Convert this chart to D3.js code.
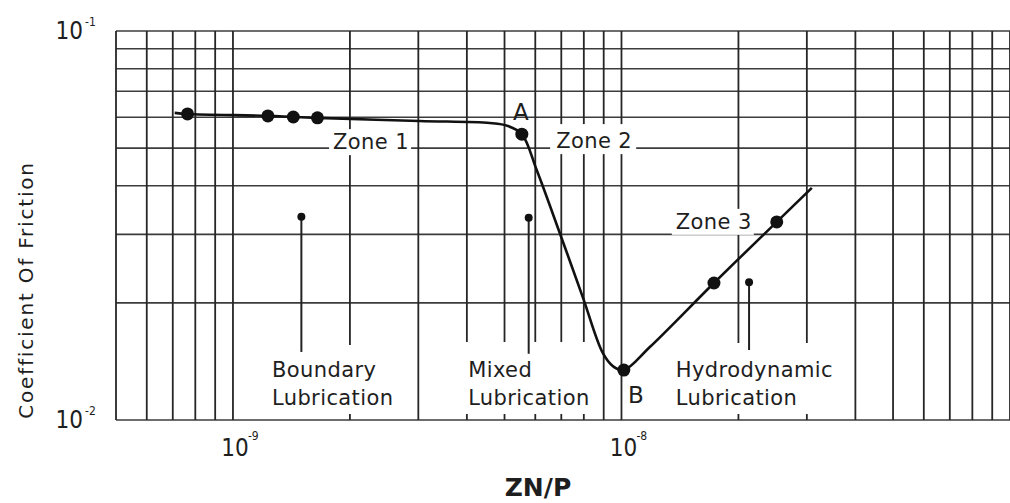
<!DOCTYPE html>
<html>
<head>
<meta charset="utf-8">
<script src="https://cdn.jsdelivr.net/npm/d3@7/dist/d3.min.js"></script>
<style>
  html, body { margin: 0; padding: 0; background: #fff; }
  svg { display: block; }
  text { font-family: "DejaVu Sans", sans-serif; fill: #1e1e1e; }
</style>
</head>
<body>
<svg id="chart" width="1010" height="503"></svg>
<script>
// ---- data ----
const xDomain = [5e-10, 1e-7];
const yDomain = [0.01, 0.1];
const xGridValues = [5e-10,6e-10,7e-10,8e-10,9e-10,
  1e-9,2e-9,3e-9,4e-9,5e-9,6e-9,7e-9,8e-9,9e-9,
  1e-8,2e-8,3e-8,4e-8,5e-8,6e-8,7e-8,8e-8,9e-8,1e-7];
const yGridValues = [0.01,0.02,0.03,0.04,0.05,0.06,0.07,0.08,0.09,0.1];
const xTickValues = [1e-9, 1e-8];
const xTickExponents = ["-9", "-8"];
const yTickValues = [0.1, 0.01];
const yTickExponents = ["-1", "-2"];

// Stribeck curve (ZN/P, coefficient of friction)
const curveX = [7.08e-10, 7.64e-10, 1.23e-9, 1.43e-9, 1.65e-9, 3.02e-9, 4.58e-9, 5.1e-9, 5.54e-9,
  6.05e-9, 6.94e-9, 7.95e-9, 8.95e-9, 9.5e-9, 1.014e-8, 1.183e-8, 1.73e-8, 2.51e-8, 3.09e-8];
const curveY = [0.0616, 0.0612, 0.0605, 0.0601, 0.0598, 0.0587, 0.058, 0.057, 0.0543,
  0.0439, 0.0302, 0.0207, 0.01487, 0.01376, 0.01344, 0.0154, 0.0225, 0.0323, 0.0395];
// measured points
const markerX = [7.64e-10, 1.23e-9, 1.43e-9, 1.65e-9, 5.54e-9, 1.014e-8, 1.73e-8, 2.51e-8];
const markerY = [0.0612, 0.0605, 0.0601, 0.0598, 0.0543, 0.01344, 0.0225, 0.0323];

// regime pointers
const pinX = [1.5e-9, 5.77e-9, 2.13e-8];
const pinTopY = [0.0333, 0.0331, 0.0226];
const pinBottomY = [0.01496, 0.01480, 0.01513];
const regimeLine1 = ["Boundary", "Mixed", "Hydrodynamic"];
const regimeLine2 = ["Lubrication", "Lubrication", "Lubrication"];
const regimeTextX = [1.26e-9, 4.03e-9, 1.38e-8];

const zoneLabels = ["Zone 1", "Zone 2", "Zone 3"];
const zoneX = [1.81e-9, 6.79e-9, 1.38e-8];
const zoneY = [0.0497, 0.0500, 0.0310];

const pointLabels = ["A", "B"];
const pointLabelX = [5.26e-9, 1.04e-8];
const pointLabelY = [0.0592, 0.01106];

// ---- drawing ----
const svg = d3.select("#chart");
const x = d3.scaleLog().domain(xDomain).range([116, 1010]);
const y = d3.scaleLog().domain(yDomain).range([420, 31]);

const grid = svg.append("g");
grid.selectAll("line.h").data(yGridValues).join("line")
  .attr("x1", x(xDomain[0])).attr("x2", 1010)
  .attr("y1", d => y(d)).attr("y2", d => y(d))
  .attr("stroke", "#3c3c3c").attr("stroke-width", 1.6);
grid.selectAll("line.v").data(xGridValues).join("line")
  .attr("x1", d => x(d)).attr("x2", d => x(d))
  .attr("y1", y(0.1)).attr("y2", y(0.01))
  .attr("stroke", "#262626").attr("stroke-width", 1.8);

// white backgrounds behind labels (hide grid)
const boxes = [
  [x(zoneX[0]) - 4, y(zoneY[0]) - 20, 82, 26],
  [x(zoneX[1]) - 6, y(zoneY[1]) - 24, 86, 30],
  [x(zoneX[2]) - 4, y(zoneY[2]) - 20, 82, 26],
  [x(regimeTextX[0]) - 6, 345, 138, 69],
  [x(regimeTextX[1]) - 6, 342, 138, 72],
  [x(regimeTextX[2]) - 6, 343, 168, 71]
];
svg.append("g").selectAll("rect").data(boxes).join("rect")
  .attr("x", d => d[0]).attr("y", d => d[1])
  .attr("width", d => d[2]).attr("height", d => d[3])
  .attr("fill", "#fff");

// curve
const pts = curveX.map((v, i) => [x(v), y(curveY[i])]);
svg.append("path")
  .attr("d", d3.line().curve(d3.curveCatmullRom.alpha(0.5))(pts))
  .attr("fill", "none").attr("stroke", "#111").attr("stroke-width", 2.6);

svg.append("g").selectAll("circle").data(markerX).join("circle")
  .attr("cx", d => x(d)).attr("cy", (d, i) => y(markerY[i]))
  .attr("r", 6.5).attr("fill", "#111");

// pins
const pins = svg.append("g");
pins.selectAll("line").data(pinX).join("line")
  .attr("x1", d => x(d)).attr("x2", d => x(d))
  .attr("y1", (d, i) => y(pinTopY[i])).attr("y2", (d, i) => y(pinBottomY[i]))
  .attr("stroke", "#222").attr("stroke-width", 2);
pins.selectAll("circle").data(pinX).join("circle")
  .attr("cx", d => x(d)).attr("cy", (d, i) => y(pinTopY[i]))
  .attr("r", 4).attr("fill", "#111");

// labels
const lab = svg.append("g").attr("font-size", 21).attr("letter-spacing", "0.4px");
lab.selectAll("text.z").data(zoneLabels).join("text")
  .attr("x", (d, i) => x(zoneX[i])).attr("y", (d, i) => y(zoneY[i]))
  .text(d => d);
lab.selectAll("text.r1").data(regimeLine1).join("text")
  .attr("x", (d, i) => x(regimeTextX[i])).attr("y", 377).text(d => d);
lab.selectAll("text.r2").data(regimeLine2).join("text")
  .attr("x", (d, i) => x(regimeTextX[i])).attr("y", 405).text(d => d);
svg.append("g").attr("font-size", 23).selectAll("text").data(pointLabels).join("text")
  .attr("x", (d, i) => x(pointLabelX[i])).attr("y", (d, i) => y(pointLabelY[i]))
  .text(d => d);

// tick labels
const tl = svg.append("g");
const narrow = "'Liberation Sans Narrow', 'DejaVu Sans Condensed', sans-serif";
const supFont = "'DejaVu Sans Condensed', 'DejaVu Sans', sans-serif";
yTickValues.forEach((v, i) => {
  tl.append("text").attr("x", 83).attr("y", y(v) + 8).style("font-family", narrow)
    .attr("text-anchor", "end").attr("font-size", 24).text("10");
  tl.append("text").attr("x", 85).attr("y", y(v) - 5).style("font-family", supFont)
    .attr("font-size", 12).text(yTickExponents[i]);
});
xTickValues.forEach((v, i) => {
  tl.append("text").attr("x", x(v) + 2).attr("y", 456).style("font-family", narrow)
    .attr("text-anchor", "middle").attr("font-size", 24).text("10");
  tl.append("text").attr("x", x(v) + 15).attr("y", 440).style("font-family", supFont)
    .attr("font-size", 12).text(xTickExponents[i]);
});

// axis titles
svg.append("text").attr("x", 538).attr("y", 496)
  .attr("text-anchor", "middle").attr("font-size", 25).attr("font-weight", "bold")
  .text("ZN/P");
svg.append("text")
  .attr("transform", "translate(33,290) rotate(-90)")
  .attr("text-anchor", "middle").attr("font-size", 20).attr("letter-spacing", "1.8px")
  .text("Coefficient Of Friction");
</script>
</body>
</html>
